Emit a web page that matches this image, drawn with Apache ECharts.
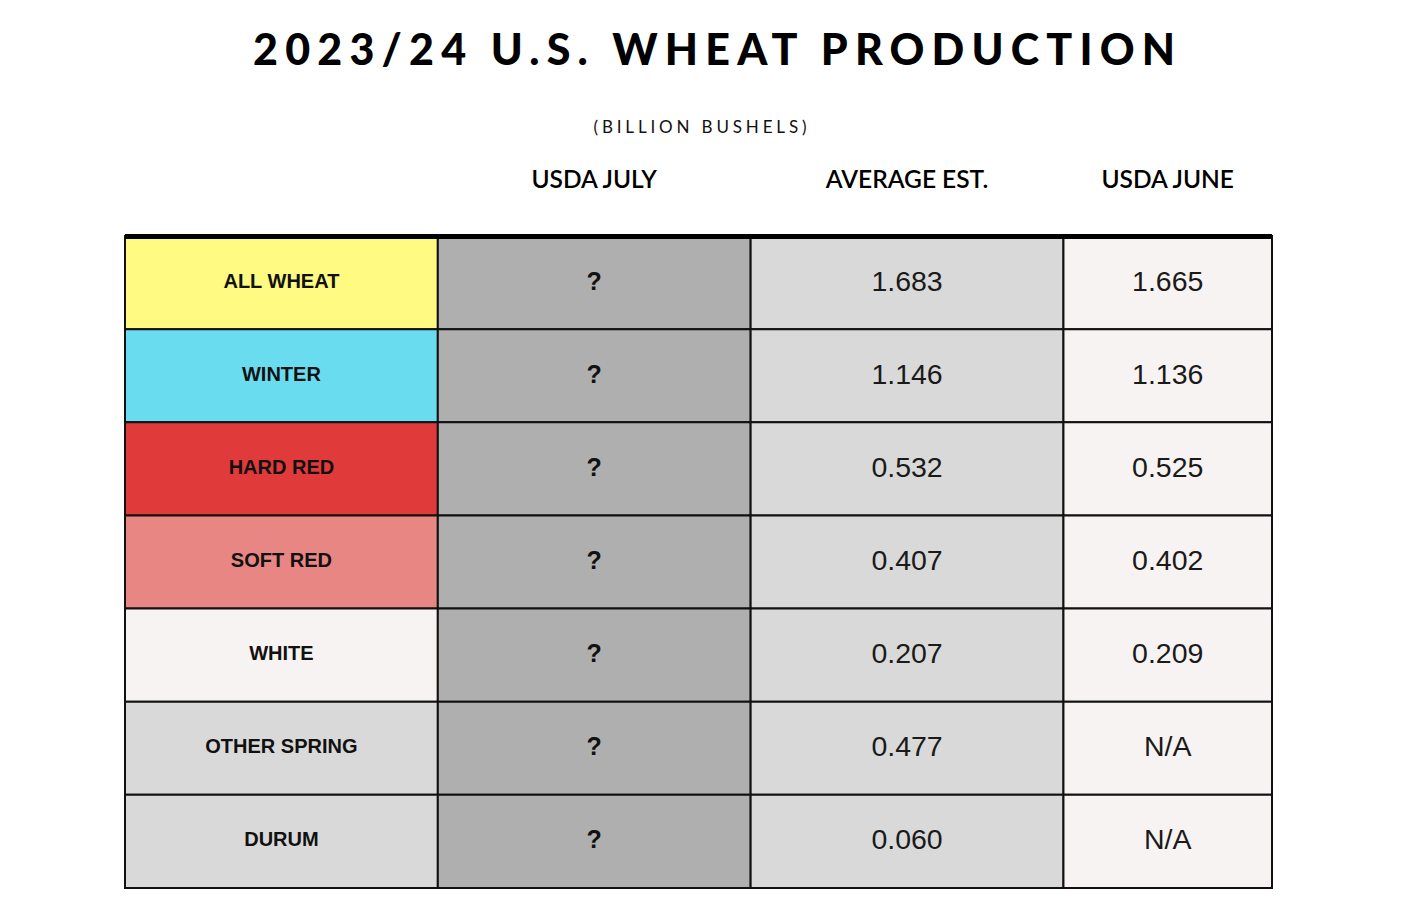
<!DOCTYPE html>
<html>
<head>
<meta charset="utf-8">
<script src="https://cdn.jsdelivr.net/npm/echarts@6/dist/echarts.min.js"></script>
<style>
  html, body { margin: 0; padding: 0; background: #ffffff; }
  #wrap { position: relative; width: 1414px; height: 908px; }
  #chart { position: absolute; left: 0; top: 0; width: 1414px; height: 908px; }
  .txt { position: absolute; white-space: nowrap; color: #000; transform: translateX(-50%); }
  #title { top: 24px; left: 714px; font-family: "Lato", sans-serif; font-weight: 900; font-size: 43px; line-height: 50px; }
  #subtitle { top: 116px; left: 700px; font-family: "Lato", sans-serif; font-weight: 400; font-size: 17px; line-height: 22px; color: #111; }
</style>
</head>
<body>
<div id="wrap">
  <div id="chart"></div>
  <div id="title" class="txt">2023/24 U.S. WHEAT PRODUCTION</div>
  <div id="subtitle" class="txt">(BILLION BUSHELS)</div>
</div>
<script>
// ---- data ----
const rowLabels = ['ALL WHEAT', 'WINTER', 'HARD RED', 'SOFT RED', 'WHITE', 'OTHER SPRING', 'DURUM'];
const columnHeaders = ['USDA JULY', 'AVERAGE EST.', 'USDA JUNE'];
const usdaJuly = ['?', '?', '?', '?', '?', '?', '?'];
const averageEst = [1.683, 1.146, 0.532, 0.407, 0.207, 0.477, 0.060];
const usdaJune = [1.665, 1.136, 0.525, 0.402, 0.209, null, null];

// ---- styles / layout ----
const rowColors = ['#FFFA82', '#6ADCEF', '#E03A3A', '#E88683', '#F7F3F2', '#D9D9D9', '#D9D9D9'];
const colColors = [null, '#AFAFAF', '#D9D9D9', '#F7F3F2'];
const colSpan = [3, 3, 3, 2];
const colStart = [0, 3, 6, 9];

// letter-spacing fit for HTML title/subtitle
function fit(id, target) {
  const el = document.getElementById(id);
  const n = el.textContent.length;
  const w = el.getBoundingClientRect().width;
  const ls = (target - w) / (n - 1);
  el.style.letterSpacing = ls + 'px';
  el.style.marginLeft = (ls / 2) + 'px';
}
fit('title', 922);
fit('subtitle', 213);

// build cell data
const cells = [];
rowLabels.forEach((lab, r) => {
  cells.push([0, r, lab]);
  cells.push([1, r, usdaJuly[r]]);
  cells.push([2, r, averageEst[r].toFixed(3)]);
  cells.push([3, r, usdaJune[r] == null ? 'N/A' : usdaJune[r].toFixed(3)]);
});
const headerData = columnHeaders.map((h, i) => [i + 1, h]);

function cellRender(params, api) {
  const c = api.value(0), r = api.value(1);
  const text = cells[params.dataIndex][2];
  const p0 = api.coord([colStart[c], r]);
  const p1 = api.coord([colStart[c] + colSpan[c], r + 1]);
  const x = p0[0], y = Math.min(p0[1], p1[1]);
  const w = p1[0] - p0[0], h = Math.abs(p1[1] - p0[1]);
  const fill = c === 0 ? rowColors[r] : colColors[c];
  let font;
  if (c === 0) font = { fontSize: 20, fontWeight: 'bold', fontFamily: '"Liberation Sans", Arial, sans-serif', fill: '#111' };
  else if (c === 1) font = { fontSize: 25, fontWeight: 'bold', fontFamily: '"Liberation Sans", Arial, sans-serif', fill: '#111' };
  else font = { fontSize: 28.5, fontWeight: 'normal', fontFamily: '"Liberation Sans", Arial, sans-serif', fill: '#1a1a1a' };
  return {
    type: 'group',
    children: [
      { type: 'rect', shape: { x: x, y: y, width: w, height: h }, style: { fill: fill, stroke: '#111', lineWidth: 2 } },
      { type: 'text', style: Object.assign({ text: text, x: x + w / 2, y: y + h / 2 - 2, align: 'center', verticalAlign: 'middle' }, font) }
    ]
  };
}

function headerRender(params, api) {
  const c = api.value(0);
  const text = headerData[params.dataIndex][1];
  const p = api.coord([colStart[c] + colSpan[c] / 2, -0.62]);
  return {
    type: 'text',
    style: { text: text, x: p[0], y: p[1], align: 'center', verticalAlign: 'middle', fontSize: 24.5, fontWeight: 600, fontFamily: 'Lato, sans-serif', fill: '#000' }
  };
}

const chart = echarts.init(document.getElementById('chart'), null, { renderer: 'svg' });
chart.setOption({
  animation: false,
  backgroundColor: '#ffffff',
  grid: { left: 125, right: 142, top: 236, bottom: 20 },
  xAxis: {
    type: 'value', min: 0, max: 11, position: 'top', z: 10,
    axisLine: { show: true, lineStyle: { color: '#000', width: 5, cap: 'butt' } },
    axisTick: { show: false }, axisLabel: { show: false }, splitLine: { show: false }
  },
  yAxis: {
    type: 'value', min: 0, max: 7, inverse: true, show: false, splitLine: { show: false }
  },
  series: [
    { type: 'custom', name: 'cells', data: cells.map(d => [d[0], d[1]]), renderItem: cellRender, clip: false, z: 2 },
    { type: 'custom', name: 'headers', data: headerData.map(d => [d[0]]), renderItem: headerRender, clip: false, z: 2 }
  ]
});
</script>
</body>
</html>
